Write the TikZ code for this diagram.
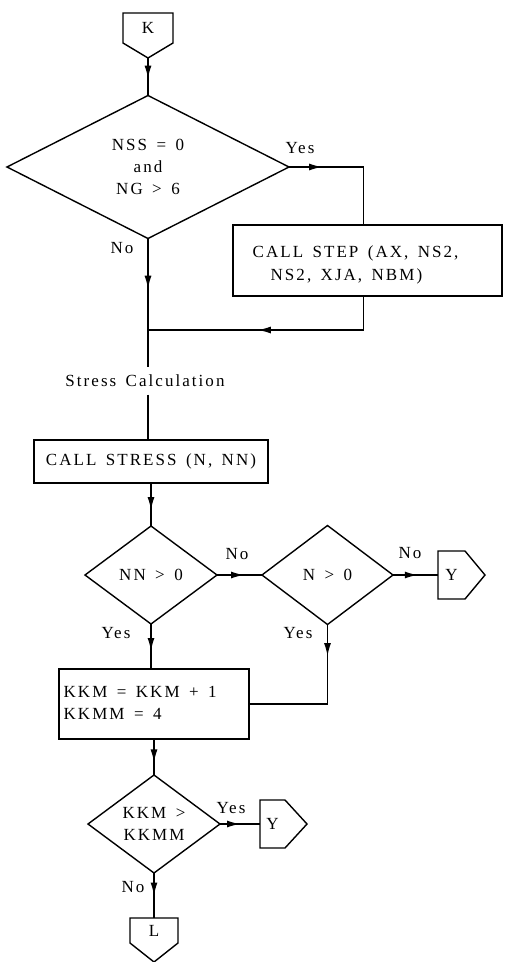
\documentclass[tikz,border=0pt]{standalone}
\usepackage{fontspec}
\setmainfont{Liberation Serif}[LetterSpace=12, WordSpace=1.5]
\usetikzlibrary{shapes.geometric,arrows.meta,decorations.markings}
\begin{document}
\begin{tikzpicture}[x=1pt,y=-1pt, line width=1.4pt,
  every node/.style={font=\fontsize{17}{22}\selectfont},
  dia/.style={diamond, draw, inner sep=0pt, outer sep=0pt, align=center},
  box/.style={rectangle, draw, inner sep=0pt, outer sep=0pt},
  conn/.style={rectangle, inner sep=0pt, outer sep=0pt},
  lbl/.style={inner sep=0pt},
  arr/.style={decoration={markings, mark=at position #1 with {\arrow{Latex[length=13pt,width=7pt]}}}, postaction={decorate}},
]
\useasboundingbox (0,0) rectangle (505,962);

% K connector
\node[conn, minimum width=50pt, minimum height=30pt] (K) at (148,28) {K};
\draw (K.south west) -- (K.north west) -- (K.north east) -- (K.south east) -- ++(-25,15) -- cycle;
\coordinate (Kt) at ([yshift=-15pt]K.south);

% decision 1
\node[dia, minimum width=282pt, minimum height=143pt] (D1) at (148,167) {NSS = 0\\and\\NG > 6};
\draw[arr=0.55] (Kt) -- (D1.north);

% step box
\node[box, minimum width=269pt, minimum height=71pt] (STEP) at (367.5,260.5) {};
\node[lbl, anchor=west, align=left, font=\fontsize{17}{23}\selectfont] (STEPT) at (252,265) {CALL STEP (AX, NS2,\\\hspace*{18pt}NS2, XJA, NBM)};
\draw[arr=0.25] (D1.east) -| ([xshift=-4pt]STEP.north);
\node[lbl] (yes1) at (300,148) {Yes};
\node[lbl] (no1) at (122,248) {No};

% junction and stress label
\coordinate (J1) at (148,330);
\draw[arr=0.56] ([xshift=-4pt]STEP.south) |- (J1);
\node[inner xsep=0pt, inner ysep=7pt] (SC) at (145,381) {Stress Calculation};
\draw[arr=0.39] (D1.south) -- (D1.south |- SC.north);

% stress box
\node[box, minimum width=234pt, minimum height=43pt] (S) at (151,461.5) {CALL STRESS (N, NN)};
\draw (SC.south -| D1.south) -- (S.north -| D1.south);

% decisions 2 and 3
\node[dia, minimum width=132pt, minimum height=98pt] (D2) at (151,575) {NN > 0};
\node[dia, minimum width=131pt, minimum height=99pt] (D3) at (327.5,575) {N > 0};
\draw[arr=0.63] (S.south) -- (D2.north);
\draw[arr=0.6] (D2.east) -- (D3.west);
\node[lbl] (no2) at (237,554) {No};

% Y connector 1
\node[conn, minimum width=27pt, minimum height=48pt] (Y1) at (451.5,575) {Y};
\draw (Y1.north west) -- (Y1.north east) -- ++(20,24) -- (Y1.south east) -- (Y1.south west) -- cycle;
\draw[arr=0.55] (D3.east) -- (Y1.west);
\node[lbl] (no3) at (410,553) {No};

% KKM box
\node[box, minimum width=190pt, minimum height=70pt] (KKM) at (154,704) {};
\node[lbl, anchor=west, align=left, font=\fontsize{17}{22}\selectfont] (KKMT) at (63,703) {KKM = KKM + 1\\KKMM = 4};
\draw[arr=0.6] (D2.south) -- (D2.south |- KKM.north);
\draw[arr=0.2] (D3.south) |- (KKM.east);
\node[lbl] (yes2) at (116,633) {Yes};
\node[lbl] (yes3) at (298,633) {Yes};

% decision 4
\node[dia, minimum width=132pt, minimum height=98pt] (D4) at (154,824) {KKM >\\KKMM};
\draw[arr=0.65] (KKM.south) -- (D4.north);

% Y connector 2
\node[conn, minimum width=25pt, minimum height=48pt] (Y2) at (272.5,824) {Y};
\draw (Y2.north west) -- (Y2.north east) -- ++(22,24) -- (Y2.south east) -- (Y2.south west) -- cycle;
\draw[arr=0.5] (D4.east) -- (Y2.west);
\node[lbl] (yes4) at (231,808) {Yes};

% L connector
\node[conn, minimum width=48pt, minimum height=25pt] (L) at (154,930.5) {L};
\draw (L.south west) -- (L.north west) -- (L.north east) -- (L.south east) -- ++(-24,19) -- cycle;
\draw[arr=0.5] (D4.south) -- (L.north);
\node[lbl] (no4) at (133,887) {No};
\end{tikzpicture}
\end{document}
